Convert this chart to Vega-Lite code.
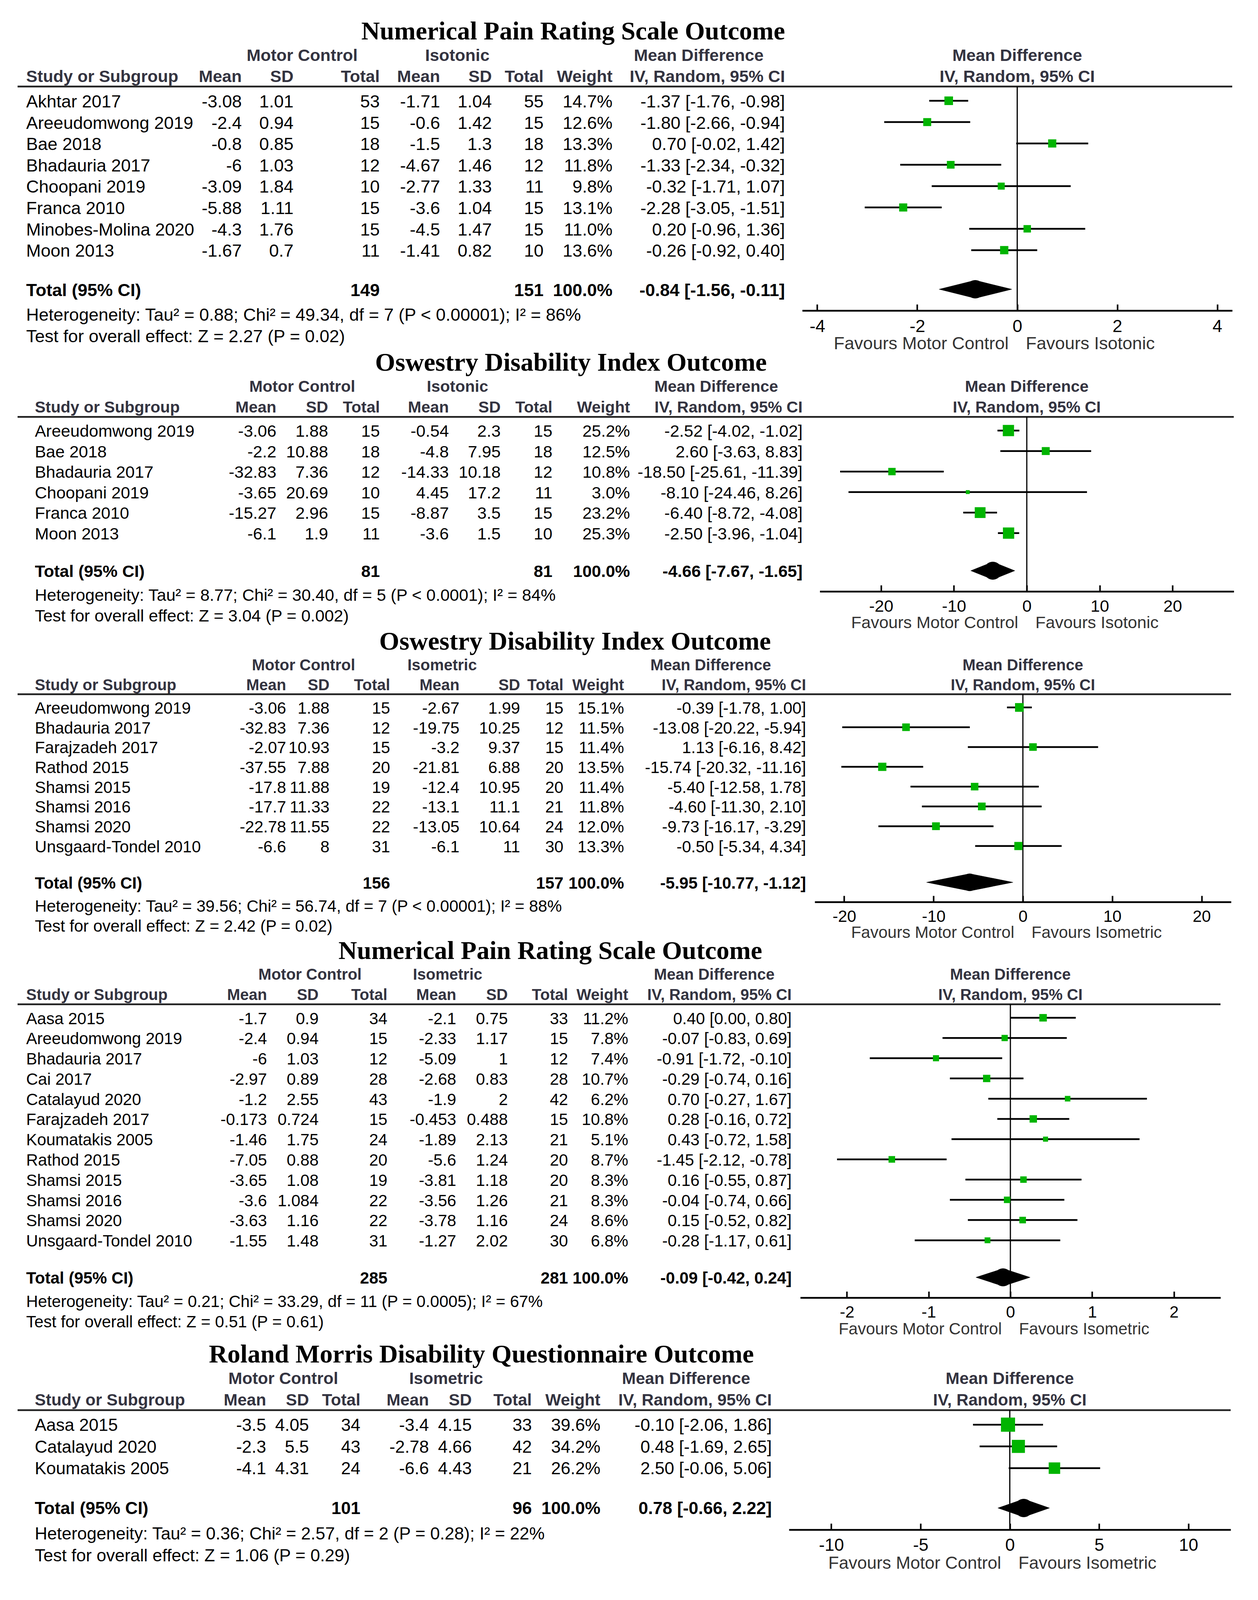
{
"$schema": "https://vega.github.io/schema/vega-lite/v6.json",
"background": "white",
"padding": {"left": 42, "top": 47, "right": 5, "bottom": 5},
"config": {"view": {"stroke": null}, "text": {"font": "Liberation Sans", "baseline": "middle", "color": "black", "dy": 3}},
"datasets": {
"hTopIso": [{"col": "gA", "label": "Motor Control"}, {"col": "gB", "label": "Isotonic"}, {"col": "gC", "label": "Mean Difference"}],
"hTopIsom": [{"col": "gA", "label": "Motor Control"}, {"col": "gB", "label": "Isometric"}, {"col": "gC", "label": "Mean Difference"}],
"hCols": [{"col": "m1", "label": "Mean"}, {"col": "s1", "label": "SD"}, {"col": "n1", "label": "Total"}, {"col": "m2", "label": "Mean"}, {"col": "s2", "label": "SD"}, {"col": "n2", "label": "Total"}, {"col": "w", "label": "Weight"}, {"col": "ci", "label": "IV, Random, 95% CI"}],
"p1": [
{"study": "Akhtar 2017", "kind": "study", "m1": -3.08, "s1": 1.01, "n1": 53, "m2": -1.71, "s2": 1.04, "n2": 55, "w": 0.147, "md": -1.37, "lo": -1.76, "hi": -0.98, "ci": "-1.37 [-1.76, -0.98]"},
{"study": "Areeudomwong 2019", "kind": "study", "m1": -2.4, "s1": 0.94, "n1": 15, "m2": -0.6, "s2": 1.42, "n2": 15, "w": 0.126, "md": -1.80, "lo": -2.66, "hi": -0.94, "ci": "-1.80 [-2.66, -0.94]"},
{"study": "Bae 2018", "kind": "study", "m1": -0.8, "s1": 0.85, "n1": 18, "m2": -1.5, "s2": 1.3, "n2": 18, "w": 0.133, "md": 0.70, "lo": -0.02, "hi": 1.42, "ci": "0.70 [-0.02, 1.42]"},
{"study": "Bhadauria 2017", "kind": "study", "m1": -6, "s1": 1.03, "n1": 12, "m2": -4.67, "s2": 1.46, "n2": 12, "w": 0.118, "md": -1.33, "lo": -2.34, "hi": -0.32, "ci": "-1.33 [-2.34, -0.32]"},
{"study": "Choopani 2019", "kind": "study", "m1": -3.09, "s1": 1.84, "n1": 10, "m2": -2.77, "s2": 1.33, "n2": 11, "w": 0.098, "md": -0.32, "lo": -1.71, "hi": 1.07, "ci": "-0.32 [-1.71, 1.07]"},
{"study": "Franca 2010", "kind": "study", "m1": -5.88, "s1": 1.11, "n1": 15, "m2": -3.6, "s2": 1.04, "n2": 15, "w": 0.131, "md": -2.28, "lo": -3.05, "hi": -1.51, "ci": "-2.28 [-3.05, -1.51]"},
{"study": "Minobes-Molina 2020", "kind": "study", "m1": -4.3, "s1": 1.76, "n1": 15, "m2": -4.5, "s2": 1.47, "n2": 15, "w": 0.110, "md": 0.20, "lo": -0.96, "hi": 1.36, "ci": "0.20 [-0.96, 1.36]"},
{"study": "Moon 2013", "kind": "study", "m1": -1.67, "s1": 0.7, "n1": 11, "m2": -1.41, "s2": 0.82, "n2": 10, "w": 0.136, "md": -0.26, "lo": -0.92, "hi": 0.40, "ci": "-0.26 [-0.92, 0.40]"},
{"study": "Total (95% CI)", "kind": "total", "n1": 149, "n2": 151, "w": 1, "md": -0.84, "lo": -1.56, "hi": -0.11, "ci": "-0.84 [-1.56, -0.11]", "het": "Heterogeneity: Tau² = 0.88; Chi² = 49.34, df = 7 (P < 0.00001); I² = 86%", "test": "Test for overall effect: Z = 2.27 (P = 0.02)"}
],
"p2": [
{"study": "Areeudomwong 2019", "kind": "study", "m1": -3.06, "s1": 1.88, "n1": 15, "m2": -0.54, "s2": 2.3, "n2": 15, "w": 0.252, "md": -2.52, "lo": -4.02, "hi": -1.02, "ci": "-2.52 [-4.02, -1.02]"},
{"study": "Bae 2018", "kind": "study", "m1": -2.2, "s1": 10.88, "n1": 18, "m2": -4.8, "s2": 7.95, "n2": 18, "w": 0.125, "md": 2.60, "lo": -3.63, "hi": 8.83, "ci": "2.60 [-3.63, 8.83]"},
{"study": "Bhadauria 2017", "kind": "study", "m1": -32.83, "s1": 7.36, "n1": 12, "m2": -14.33, "s2": 10.18, "n2": 12, "w": 0.108, "md": -18.50, "lo": -25.61, "hi": -11.39, "ci": "-18.50 [-25.61, -11.39]"},
{"study": "Choopani 2019", "kind": "study", "m1": -3.65, "s1": 20.69, "n1": 10, "m2": 4.45, "s2": 17.2, "n2": 11, "w": 0.030, "md": -8.10, "lo": -24.46, "hi": 8.26, "ci": "-8.10 [-24.46, 8.26]"},
{"study": "Franca 2010", "kind": "study", "m1": -15.27, "s1": 2.96, "n1": 15, "m2": -8.87, "s2": 3.5, "n2": 15, "w": 0.232, "md": -6.40, "lo": -8.72, "hi": -4.08, "ci": "-6.40 [-8.72, -4.08]"},
{"study": "Moon 2013", "kind": "study", "m1": -6.1, "s1": 1.9, "n1": 11, "m2": -3.6, "s2": 1.5, "n2": 10, "w": 0.253, "md": -2.50, "lo": -3.96, "hi": -1.04, "ci": "-2.50 [-3.96, -1.04]"},
{"study": "Total (95% CI)", "kind": "total", "n1": 81, "n2": 81, "w": 1, "md": -4.66, "lo": -7.67, "hi": -1.65, "ci": "-4.66 [-7.67, -1.65]", "het": "Heterogeneity: Tau² = 8.77; Chi² = 30.40, df = 5 (P < 0.0001); I² = 84%", "test": "Test for overall effect: Z = 3.04 (P = 0.002)"}
],
"p3": [
{"study": "Areeudomwong 2019", "kind": "study", "m1": -3.06, "s1": 1.88, "n1": 15, "m2": -2.67, "s2": 1.99, "n2": 15, "w": 0.151, "md": -0.39, "lo": -1.78, "hi": 1.00, "ci": "-0.39 [-1.78, 1.00]"},
{"study": "Bhadauria 2017", "kind": "study", "m1": -32.83, "s1": 7.36, "n1": 12, "m2": -19.75, "s2": 10.25, "n2": 12, "w": 0.115, "md": -13.08, "lo": -20.22, "hi": -5.94, "ci": "-13.08 [-20.22, -5.94]"},
{"study": "Farajzadeh 2017", "kind": "study", "m1": -2.07, "s1": 10.93, "n1": 15, "m2": -3.2, "s2": 9.37, "n2": 15, "w": 0.114, "md": 1.13, "lo": -6.16, "hi": 8.42, "ci": "1.13 [-6.16, 8.42]"},
{"study": "Rathod 2015", "kind": "study", "m1": -37.55, "s1": 7.88, "n1": 20, "m2": -21.81, "s2": 6.88, "n2": 20, "w": 0.135, "md": -15.74, "lo": -20.32, "hi": -11.16, "ci": "-15.74 [-20.32, -11.16]"},
{"study": "Shamsi 2015", "kind": "study", "m1": -17.8, "s1": 11.88, "n1": 19, "m2": -12.4, "s2": 10.95, "n2": 20, "w": 0.114, "md": -5.40, "lo": -12.58, "hi": 1.78, "ci": "-5.40 [-12.58, 1.78]"},
{"study": "Shamsi 2016", "kind": "study", "m1": -17.7, "s1": 11.33, "n1": 22, "m2": -13.1, "s2": 11.1, "n2": 21, "w": 0.118, "md": -4.60, "lo": -11.30, "hi": 2.10, "ci": "-4.60 [-11.30, 2.10]"},
{"study": "Shamsi 2020", "kind": "study", "m1": -22.78, "s1": 11.55, "n1": 22, "m2": -13.05, "s2": 10.64, "n2": 24, "w": 0.120, "md": -9.73, "lo": -16.17, "hi": -3.29, "ci": "-9.73 [-16.17, -3.29]"},
{"study": "Unsgaard-Tondel 2010", "kind": "study", "m1": -6.6, "s1": 8, "n1": 31, "m2": -6.1, "s2": 11, "n2": 30, "w": 0.133, "md": -0.50, "lo": -5.34, "hi": 4.34, "ci": "-0.50 [-5.34, 4.34]"},
{"study": "Total (95% CI)", "kind": "total", "n1": 156, "n2": 157, "w": 1, "md": -5.95, "lo": -10.77, "hi": -1.12, "ci": "-5.95 [-10.77, -1.12]", "het": "Heterogeneity: Tau² = 39.56; Chi² = 56.74, df = 7 (P < 0.00001); I² = 88%", "test": "Test for overall effect: Z = 2.42 (P = 0.02)"}
],
"p4": [
{"study": "Aasa 2015", "kind": "study", "m1": -1.7, "s1": 0.9, "n1": 34, "m2": -2.1, "s2": 0.75, "n2": 33, "w": 0.112, "md": 0.40, "lo": 0.00, "hi": 0.80, "ci": "0.40 [0.00, 0.80]"},
{"study": "Areeudomwong 2019", "kind": "study", "m1": -2.4, "s1": 0.94, "n1": 15, "m2": -2.33, "s2": 1.17, "n2": 15, "w": 0.078, "md": -0.07, "lo": -0.83, "hi": 0.69, "ci": "-0.07 [-0.83, 0.69]"},
{"study": "Bhadauria 2017", "kind": "study", "m1": -6, "s1": 1.03, "n1": 12, "m2": -5.09, "s2": 1, "n2": 12, "w": 0.074, "md": -0.91, "lo": -1.72, "hi": -0.10, "ci": "-0.91 [-1.72, -0.10]"},
{"study": "Cai 2017", "kind": "study", "m1": -2.97, "s1": 0.89, "n1": 28, "m2": -2.68, "s2": 0.83, "n2": 28, "w": 0.107, "md": -0.29, "lo": -0.74, "hi": 0.16, "ci": "-0.29 [-0.74, 0.16]"},
{"study": "Catalayud 2020", "kind": "study", "m1": -1.2, "s1": 2.55, "n1": 43, "m2": -1.9, "s2": 2, "n2": 42, "w": 0.062, "md": 0.70, "lo": -0.27, "hi": 1.67, "ci": "0.70 [-0.27, 1.67]"},
{"study": "Farajzadeh 2017", "kind": "study", "m1": -0.173, "s1": 0.724, "n1": 15, "m2": -0.453, "s2": 0.488, "n2": 15, "w": 0.108, "md": 0.28, "lo": -0.16, "hi": 0.72, "ci": "0.28 [-0.16, 0.72]"},
{"study": "Koumatakis 2005", "kind": "study", "m1": -1.46, "s1": 1.75, "n1": 24, "m2": -1.89, "s2": 2.13, "n2": 21, "w": 0.051, "md": 0.43, "lo": -0.72, "hi": 1.58, "ci": "0.43 [-0.72, 1.58]"},
{"study": "Rathod 2015", "kind": "study", "m1": -7.05, "s1": 0.88, "n1": 20, "m2": -5.6, "s2": 1.24, "n2": 20, "w": 0.087, "md": -1.45, "lo": -2.12, "hi": -0.78, "ci": "-1.45 [-2.12, -0.78]"},
{"study": "Shamsi 2015", "kind": "study", "m1": -3.65, "s1": 1.08, "n1": 19, "m2": -3.81, "s2": 1.18, "n2": 20, "w": 0.083, "md": 0.16, "lo": -0.55, "hi": 0.87, "ci": "0.16 [-0.55, 0.87]"},
{"study": "Shamsi 2016", "kind": "study", "m1": -3.6, "s1": 1.084, "n1": 22, "m2": -3.56, "s2": 1.26, "n2": 21, "w": 0.083, "md": -0.04, "lo": -0.74, "hi": 0.66, "ci": "-0.04 [-0.74, 0.66]"},
{"study": "Shamsi 2020", "kind": "study", "m1": -3.63, "s1": 1.16, "n1": 22, "m2": -3.78, "s2": 1.16, "n2": 24, "w": 0.086, "md": 0.15, "lo": -0.52, "hi": 0.82, "ci": "0.15 [-0.52, 0.82]"},
{"study": "Unsgaard-Tondel 2010", "kind": "study", "m1": -1.55, "s1": 1.48, "n1": 31, "m2": -1.27, "s2": 2.02, "n2": 30, "w": 0.068, "md": -0.28, "lo": -1.17, "hi": 0.61, "ci": "-0.28 [-1.17, 0.61]"},
{"study": "Total (95% CI)", "kind": "total", "n1": 285, "n2": 281, "w": 1, "md": -0.09, "lo": -0.42, "hi": 0.24, "ci": "-0.09 [-0.42, 0.24]", "het": "Heterogeneity: Tau² = 0.21; Chi² = 33.29, df = 11 (P = 0.0005); I² = 67%", "test": "Test for overall effect: Z = 0.51 (P = 0.61)"}
],
"p5": [
{"study": "Aasa 2015", "kind": "study", "m1": -3.5, "s1": 4.05, "n1": 34, "m2": -3.4, "s2": 4.15, "n2": 33, "w": 0.396, "md": -0.10, "lo": -2.06, "hi": 1.86, "ci": "-0.10 [-2.06, 1.86]"},
{"study": "Catalayud 2020", "kind": "study", "m1": -2.3, "s1": 5.5, "n1": 43, "m2": -2.78, "s2": 4.66, "n2": 42, "w": 0.342, "md": 0.48, "lo": -1.69, "hi": 2.65, "ci": "0.48 [-1.69, 2.65]"},
{"study": "Koumatakis 2005", "kind": "study", "m1": -4.1, "s1": 4.31, "n1": 24, "m2": -6.6, "s2": 4.43, "n2": 21, "w": 0.262, "md": 2.50, "lo": -0.06, "hi": 5.06, "ci": "2.50 [-0.06, 5.06]"},
{"study": "Total (95% CI)", "kind": "total", "n1": 101, "n2": 96, "w": 1, "md": 0.78, "lo": -0.66, "hi": 2.22, "ci": "0.78 [-0.66, 2.22]", "het": "Heterogeneity: Tau² = 0.36; Chi² = 2.57, df = 2 (P = 0.28); I² = 22%", "test": "Test for overall effect: Z = 1.06 (P = 0.29)"}
]
},
"spacing": -13,
"vconcat": [
{"hconcat": [
{"width": 2009, "height": 774, "data": {"name": "p1"},
"title": {"text": "Numerical Pain Rating Scale Outcome", "font": "Liberation Serif", "fontSize": 66, "fontWeight": "bold", "color": "black", "anchor": "middle", "frame": "group", "dx": 418, "offset": 7},
"layer": [
{"data": {"values": [{}]}, "mark": {"type": "rule", "strokeWidth": 4.5, "color": "#222222"}, "encoding": {"y": {"datum": "_L", "type": "nominal", "axis": null, "scale": {"type": "point", "padding": 0.5, "domain": ["H1","1","2","3","4","5","H2","7","8","_L","10","11","12","Akhtar 2017","14","15","16","17","18","Areeudomwong 2019","20","21","22","23","24","Bae 2018","26","27","28","29","30","Bhadauria 2017","32","33","34","35","36","Choopani 2019","38","39","40","41","42","Franca 2010","44","45","46","47","48","Minobes-Molina 2020","50","51","52","53","54","Moon 2013","56","57","58","59","60","61","62","63","64","65","Total (95% CI)","67","68","69","70","71","_A","Het","74","75","76","77","78","Test","80","Fav","82","83","84"]}}}},
{"transform": [{"filter": "datum.kind == 'study'"}], "mark": {"type": "text", "align": "left", "fontSize": 45}, "encoding": {"x": {"datum": "study", "type": "nominal", "axis": null, "scale": {"type": "point", "padding": 0, "domain": ["0","study","2","3","4","5","6","7","8","9","10","11","12","13","14","15","16","17","18","19","20","21","22","23","24","25","m1","27","28","29","30","31","s1","gA","34","35","36","37","38","39","40","41","n1","43","44","45","46","47","48","m2","50","gB","52","53","54","s2","56","57","58","59","60","n2","62","63","64","65","66","67","68","w","70","71","72","73","74","75","76","77","78","gC","80","81","82","83","84","85","86","87","88","ci","90","91"]}}, "y": {"field": "study", "type": "nominal", "axis": null}, "text": {"field": "study", "type": "nominal"}}},
{"transform": [{"filter": "datum.kind == 'study'"}, {"fold": ["m1","s1","n1","m2","s2","n2","ci"]}], "mark": {"type": "text", "align": "right", "fontSize": 45}, "encoding": {"x": {"field": "key", "type": "nominal", "axis": null}, "y": {"field": "study", "type": "nominal", "axis": null}, "text": {"field": "value", "type": "nominal"}}},
{"transform": [{"filter": "datum.kind == 'study'"}], "mark": {"type": "text", "align": "right", "fontSize": 45}, "encoding": {"x": {"datum": "w", "type": "nominal", "axis": null}, "y": {"field": "study", "type": "nominal", "axis": null}, "text": {"field": "w", "type": "quantitative", "format": ".1%"}}},
{"transform": [{"filter": "datum.kind == 'total'"}], "mark": {"type": "text", "align": "left", "fontSize": 45, "fontWeight": "bold"}, "encoding": {"x": {"datum": "study", "type": "nominal", "axis": null}, "y": {"field": "study", "type": "nominal", "axis": null}, "text": {"field": "study", "type": "nominal"}}},
{"transform": [{"filter": "datum.kind == 'total'"}, {"fold": ["n1","n2","ci"]}], "mark": {"type": "text", "align": "right", "fontSize": 45, "fontWeight": "bold"}, "encoding": {"x": {"field": "key", "type": "nominal", "axis": null}, "y": {"field": "study", "type": "nominal", "axis": null}, "text": {"field": "value", "type": "nominal"}}},
{"transform": [{"filter": "datum.kind == 'total'"}], "mark": {"type": "text", "align": "right", "fontSize": 45, "fontWeight": "bold"}, "encoding": {"x": {"datum": "w", "type": "nominal", "axis": null}, "y": {"field": "study", "type": "nominal", "axis": null}, "text": {"field": "w", "type": "quantitative", "format": ".1%"}}},
{"transform": [{"filter": "datum.kind == 'total'"}], "mark": {"type": "text", "align": "left", "fontSize": 45}, "encoding": {"x": {"datum": "study", "type": "nominal", "axis": null}, "y": {"datum": "Het", "type": "nominal", "axis": null}, "text": {"field": "het", "type": "nominal"}}},
{"transform": [{"filter": "datum.kind == 'total'"}], "mark": {"type": "text", "align": "left", "fontSize": 45}, "encoding": {"x": {"datum": "study", "type": "nominal", "axis": null}, "y": {"datum": "Test", "type": "nominal", "axis": null}, "text": {"field": "test", "type": "nominal"}}},
{"data": {"name": "hTopIso"}, "mark": {"type": "text", "align": "center", "fontSize": 43, "fontWeight": "bold", "color": "#333340"}, "encoding": {"x": {"field": "col", "type": "nominal", "axis": null}, "y": {"datum": "H1", "type": "nominal", "axis": null}, "text": {"field": "label", "type": "nominal"}}},
{"data": {"values": [{}]}, "mark": {"type": "text", "align": "left", "fontSize": 43, "fontWeight": "bold", "color": "#333340"}, "encoding": {"x": {"datum": "study", "type": "nominal", "axis": null}, "y": {"datum": "H2", "type": "nominal", "axis": null}, "text": {"value": "Study or Subgroup"}}},
{"data": {"name": "hCols"}, "mark": {"type": "text", "align": "right", "fontSize": 43, "fontWeight": "bold", "color": "#333340"}, "encoding": {"x": {"field": "col", "type": "nominal", "axis": null}, "y": {"datum": "H2", "type": "nominal", "axis": null}, "text": {"field": "label", "type": "nominal"}}}
]},
{"width": 1101, "height": 774, "data": {"name": "p1"},
"resolve": {"scale": {"size": "independent"}, "axis": {"x": "independent"}},
"layer": [
{"data": {"values": [{}]}, "mark": {"type": "rule", "strokeWidth": 4.5, "color": "#222222"}, "encoding": {"y": {"datum": "_L", "type": "nominal", "axis": null, "scale": {"type": "point", "padding": 0.5, "domain": ["H1","1","2","3","4","5","H2","7","8","_L","10","11","12","Akhtar 2017","14","15","16","17","18","Areeudomwong 2019","20","21","22","23","24","Bae 2018","26","27","28","29","30","Bhadauria 2017","32","33","34","35","36","Choopani 2019","38","39","40","41","42","Franca 2010","44","45","46","47","48","Minobes-Molina 2020","50","51","52","53","54","Moon 2013","56","57","58","59","60","61","62","63","64","65","Total (95% CI)","67","68","69","70","71","_A","Het","74","75","76","77","78","Test","80","Fav","82","83","84"]}}}},
{"data": {"values": [{}]}, "mark": {"type": "rule", "strokeWidth": 3, "color": "black"}, "encoding": {"x": {"datum": 0, "type": "quantitative", "scale": {"domain": [-4.3, 4.3], "nice": false, "zero": false}, "axis": {"values": [-4, -2, 0, 2, 4], "title": null, "grid": false, "domainColor": "black", "domainWidth": 4.5, "ticks": true, "tickSize": 0, "labelFont": "Liberation Sans", "labelFontSize": 45, "labelColor": "black", "labelPadding": 40, "labelBaseline": "middle", "labelFlush": false, "labelOverlap": false, "offset": -114, "labelExpr": "replace(datum.label, '\u2212', '-')"}}, "y": {"datum": "_L", "type": "nominal", "axis": null}, "y2": {"datum": "_A"}}},
{"transform": [{"filter": "datum.kind == 'study'"}], "mark": {"type": "rule", "strokeWidth": 4.5, "color": "black"}, "encoding": {"x": {"field": "lo", "type": "quantitative", "axis": null}, "x2": {"field": "hi"}, "y": {"field": "study", "type": "nominal", "axis": null}}},
{"transform": [{"filter": "datum.kind == 'study'"}], "mark": {"type": "point", "shape": "square", "filled": true, "opacity": 1, "color": "#00b400"}, "encoding": {"x": {"field": "md", "type": "quantitative", "axis": null}, "y": {"field": "study", "type": "nominal", "axis": null}, "size": {"field": "w", "type": "quantitative", "scale": {"domain": [0, 1], "range": [0, 3300]}, "legend": null}}},
{"transform": [{"filter": "datum.kind == 'total'"}, {"fold": ["lo","md","hi"], "as": ["pt","val"]}], "mark": {"type": "trail", "color": "black"}, "encoding": {"x": {"field": "val", "type": "quantitative", "axis": null}, "y": {"field": "study", "type": "nominal", "axis": null}, "order": {"field": "val", "type": "quantitative"}, "size": {"field": "pt", "type": "nominal", "scale": {"type": "ordinal", "domain": ["lo","md","hi"], "range": [0, 47, 0]}, "legend": null}}},
{"data": {"values": [{}]}, "mark": {"type": "text", "align": "center", "fontSize": 43, "fontWeight": "bold", "color": "#333340"}, "encoding": {"x": {"datum": 0, "type": "quantitative", "axis": {"orient": "top", "values": [-4, -2, 0, 2, 4], "title": null, "grid": false, "domain": false, "labels": false, "ticks": true, "tickSize": 16, "tickWidth": 4, "tickColor": "black", "offset": -660}}, "y": {"datum": "H1", "type": "nominal", "axis": null}, "text": {"value": "Mean Difference"}}},
{"data": {"values": [{}]}, "mark": {"type": "text", "align": "center", "fontSize": 43, "fontWeight": "bold", "color": "#333340"}, "encoding": {"x": {"datum": 0, "type": "quantitative", "axis": null}, "y": {"datum": "H2", "type": "nominal", "axis": null}, "text": {"value": "IV, Random, 95% CI"}}},
{"data": {"values": [{}]}, "mark": {"type": "text", "align": "right", "dx": -22, "fontSize": 45, "color": "#333333"}, "encoding": {"x": {"datum": 0, "type": "quantitative", "axis": null}, "y": {"datum": "Fav", "type": "nominal", "axis": null}, "text": {"value": "Favours Motor Control"}}},
{"data": {"values": [{}]}, "mark": {"type": "text", "align": "left", "dx": 22, "fontSize": 45, "color": "#333333"}, "encoding": {"x": {"datum": 0, "type": "quantitative", "axis": null}, "y": {"datum": "Fav", "type": "nominal", "axis": null}, "text": {"value": "Favours Isotonic"}}}
]}
], "spacing": 0, "bounds": "flush"},

{"hconcat": [
{"width": 2054, "height": 639, "data": {"name": "p2"},
"title": {"text": "Oswestry Disability Index Outcome", "font": "Liberation Serif", "fontSize": 66, "fontWeight": "bold", "color": "black", "anchor": "middle", "frame": "group", "dx": 390, "offset": 7},
"layer": [
{"data": {"values": [{}]}, "mark": {"type": "rule", "strokeWidth": 4.5, "color": "#222222"}, "encoding": {"y": {"datum": "_L", "type": "nominal", "axis": null, "scale": {"type": "point", "padding": 0.5, "domain": ["H1","1","2","3","4","5","H2","7","8","_L","10","11","12","Areeudomwong 2019","14","15","16","17","18","Bae 2018","20","21","22","23","24","Bhadauria 2017","26","27","28","29","30","Choopani 2019","32","33","34","35","36","Franca 2010","38","39","40","41","42","Moon 2013","44","45","46","47","48","49","50","51","52","53","Total (95% CI)","55","56","57","58","59","_A","Het","62","63","64","65","66","Test","68","Fav","70","71","72"]}}}},
{"transform": [{"filter": "datum.kind == 'study'"}], "mark": {"type": "text", "align": "left", "fontSize": 43}, "encoding": {"x": {"datum": "study", "type": "nominal", "axis": null, "scale": {"type": "point", "padding": 0, "domain": ["0","1","study","3","4","5","6","7","8","9","10","11","12","13","14","15","16","17","18","19","20","21","22","23","24","25","26","27","28","29","m1","31","32","gA","34","35","s1","37","38","39","40","41","n1","43","44","45","46","47","48","49","m2","gB","52","53","54","55","s2","57","58","59","60","61","n2","63","64","65","66","67","68","69","70","w","72","73","74","75","76","77","78","79","80","gC","82","83","84","85","86","87","88","89","90","ci","92","93"]}}, "y": {"field": "study", "type": "nominal", "axis": null}, "text": {"field": "study", "type": "nominal"}}},
{"transform": [{"filter": "datum.kind == 'study'"}, {"fold": ["m1","s1","n1","m2","s2","n2","ci"]}], "mark": {"type": "text", "align": "right", "fontSize": 43}, "encoding": {"x": {"field": "key", "type": "nominal", "axis": null}, "y": {"field": "study", "type": "nominal", "axis": null}, "text": {"field": "value", "type": "nominal"}}},
{"transform": [{"filter": "datum.kind == 'study'"}], "mark": {"type": "text", "align": "right", "fontSize": 43}, "encoding": {"x": {"datum": "w", "type": "nominal", "axis": null}, "y": {"field": "study", "type": "nominal", "axis": null}, "text": {"field": "w", "type": "quantitative", "format": ".1%"}}},
{"transform": [{"filter": "datum.kind == 'total'"}], "mark": {"type": "text", "align": "left", "fontSize": 43, "fontWeight": "bold"}, "encoding": {"x": {"datum": "study", "type": "nominal", "axis": null}, "y": {"field": "study", "type": "nominal", "axis": null}, "text": {"field": "study", "type": "nominal"}}},
{"transform": [{"filter": "datum.kind == 'total'"}, {"fold": ["n1","n2","ci"]}], "mark": {"type": "text", "align": "right", "fontSize": 43, "fontWeight": "bold"}, "encoding": {"x": {"field": "key", "type": "nominal", "axis": null}, "y": {"field": "study", "type": "nominal", "axis": null}, "text": {"field": "value", "type": "nominal"}}},
{"transform": [{"filter": "datum.kind == 'total'"}], "mark": {"type": "text", "align": "right", "fontSize": 43, "fontWeight": "bold"}, "encoding": {"x": {"datum": "w", "type": "nominal", "axis": null}, "y": {"field": "study", "type": "nominal", "axis": null}, "text": {"field": "w", "type": "quantitative", "format": ".1%"}}},
{"transform": [{"filter": "datum.kind == 'total'"}], "mark": {"type": "text", "align": "left", "fontSize": 43}, "encoding": {"x": {"datum": "study", "type": "nominal", "axis": null}, "y": {"datum": "Het", "type": "nominal", "axis": null}, "text": {"field": "het", "type": "nominal"}}},
{"transform": [{"filter": "datum.kind == 'total'"}], "mark": {"type": "text", "align": "left", "fontSize": 43}, "encoding": {"x": {"datum": "study", "type": "nominal", "axis": null}, "y": {"datum": "Test", "type": "nominal", "axis": null}, "text": {"field": "test", "type": "nominal"}}},
{"data": {"name": "hTopIso"}, "mark": {"type": "text", "align": "center", "fontSize": 41, "fontWeight": "bold", "color": "#333340"}, "encoding": {"x": {"field": "col", "type": "nominal", "axis": null}, "y": {"datum": "H1", "type": "nominal", "axis": null}, "text": {"field": "label", "type": "nominal"}}},
{"data": {"values": [{}]}, "mark": {"type": "text", "align": "left", "fontSize": 41, "fontWeight": "bold", "color": "#333340"}, "encoding": {"x": {"datum": "study", "type": "nominal", "axis": null}, "y": {"datum": "H2", "type": "nominal", "axis": null}, "text": {"value": "Study or Subgroup"}}},
{"data": {"name": "hCols"}, "mark": {"type": "text", "align": "right", "fontSize": 41, "fontWeight": "bold", "color": "#333340"}, "encoding": {"x": {"field": "col", "type": "nominal", "axis": null}, "y": {"datum": "H2", "type": "nominal", "axis": null}, "text": {"field": "label", "type": "nominal"}}}
]},
{"width": 1060, "height": 639, "data": {"name": "p2"},
"resolve": {"scale": {"size": "independent"}, "axis": {"x": "independent"}},
"layer": [
{"data": {"values": [{}]}, "mark": {"type": "rule", "strokeWidth": 4.5, "color": "#222222"}, "encoding": {"y": {"datum": "_L", "type": "nominal", "axis": null, "scale": {"type": "point", "padding": 0.5, "domain": ["H1","1","2","3","4","5","H2","7","8","_L","10","11","12","Areeudomwong 2019","14","15","16","17","18","Bae 2018","20","21","22","23","24","Bhadauria 2017","26","27","28","29","30","Choopani 2019","32","33","34","35","36","Franca 2010","38","39","40","41","42","Moon 2013","44","45","46","47","48","49","50","51","52","53","Total (95% CI)","55","56","57","58","59","_A","Het","62","63","64","65","66","Test","68","Fav","70","71","72"]}}}},
{"data": {"values": [{}]}, "mark": {"type": "rule", "strokeWidth": 3, "color": "black"}, "encoding": {"x": {"datum": 0, "type": "quantitative", "scale": {"domain": [-28.4, 28.4], "nice": false, "zero": false}, "axis": {"values": [-20, -10, 0, 10, 20], "title": null, "grid": false, "domainColor": "black", "domainWidth": 4.5, "ticks": true, "tickSize": 0, "labelFont": "Liberation Sans", "labelFontSize": 43, "labelColor": "black", "labelPadding": 38, "labelBaseline": "middle", "labelFlush": false, "labelOverlap": false, "offset": -109, "labelExpr": "replace(datum.label, '\u2212', '-')"}}, "y": {"datum": "_L", "type": "nominal", "axis": null}, "y2": {"datum": "_A"}}},
{"transform": [{"filter": "datum.kind == 'study'"}], "mark": {"type": "rule", "strokeWidth": 4.5, "color": "black"}, "encoding": {"x": {"field": "lo", "type": "quantitative", "axis": null}, "x2": {"field": "hi"}, "y": {"field": "study", "type": "nominal", "axis": null}}},
{"transform": [{"filter": "datum.kind == 'study'"}], "mark": {"type": "point", "shape": "square", "filled": true, "opacity": 1, "color": "#00b400"}, "encoding": {"x": {"field": "md", "type": "quantitative", "axis": null}, "y": {"field": "study", "type": "nominal", "axis": null}, "size": {"field": "w", "type": "quantitative", "scale": {"domain": [0, 1], "range": [0, 3300]}, "legend": null}}},
{"transform": [{"filter": "datum.kind == 'total'"}, {"fold": ["lo","md","hi"], "as": ["pt","val"]}], "mark": {"type": "trail", "color": "black"}, "encoding": {"x": {"field": "val", "type": "quantitative", "axis": null}, "y": {"field": "study", "type": "nominal", "axis": null}, "order": {"field": "val", "type": "quantitative"}, "size": {"field": "pt", "type": "nominal", "scale": {"type": "ordinal", "domain": ["lo","md","hi"], "range": [0, 46, 0]}, "legend": null}}},
{"data": {"values": [{}]}, "mark": {"type": "text", "align": "center", "fontSize": 41, "fontWeight": "bold", "color": "#333340"}, "encoding": {"x": {"datum": 0, "type": "quantitative", "axis": {"orient": "top", "values": [-20, -10, 0, 10, 20], "title": null, "grid": false, "domain": false, "labels": false, "ticks": true, "tickSize": 16, "tickWidth": 4, "tickColor": "black", "offset": -530}}, "y": {"datum": "H1", "type": "nominal", "axis": null}, "text": {"value": "Mean Difference"}}},
{"data": {"values": [{}]}, "mark": {"type": "text", "align": "center", "fontSize": 41, "fontWeight": "bold", "color": "#333340"}, "encoding": {"x": {"datum": 0, "type": "quantitative", "axis": null}, "y": {"datum": "H2", "type": "nominal", "axis": null}, "text": {"value": "IV, Random, 95% CI"}}},
{"data": {"values": [{}]}, "mark": {"type": "text", "align": "right", "dx": -22, "fontSize": 43, "color": "#333333"}, "encoding": {"x": {"datum": 0, "type": "quantitative", "axis": null}, "y": {"datum": "Fav", "type": "nominal", "axis": null}, "text": {"value": "Favours Motor Control"}}},
{"data": {"values": [{}]}, "mark": {"type": "text", "align": "left", "dx": 22, "fontSize": 43, "color": "#333333"}, "encoding": {"x": {"datum": 0, "type": "quantitative", "axis": null}, "y": {"datum": "Fav", "type": "nominal", "axis": null}, "text": {"value": "Favours Isotonic"}}}
]}
], "spacing": 0, "bounds": "flush"},

{"hconcat": [
{"width": 2041, "height": 718, "data": {"name": "p3"},
"title": {"text": "Oswestry Disability Index Outcome", "font": "Liberation Serif", "fontSize": 66, "fontWeight": "bold", "color": "black", "anchor": "middle", "frame": "group", "dx": 407, "offset": 7},
"layer": [
{"data": {"values": [{}]}, "mark": {"type": "rule", "strokeWidth": 4.5, "color": "#222222"}, "encoding": {"y": {"datum": "_L", "type": "nominal", "axis": null, "scale": {"type": "point", "padding": 0.5, "domain": ["H1","1","2","3","4","5","H2","7","8","_L","10","11","12","Areeudomwong 2019","14","15","16","17","18","Bhadauria 2017","20","21","22","23","24","Farajzadeh 2017","26","27","28","29","30","Rathod 2015","32","33","34","35","36","Shamsi 2015","38","39","40","41","42","Shamsi 2016","44","45","46","47","48","Shamsi 2020","50","51","52","53","54","Unsgaard-Tondel 2010","56","57","58","59","60","61","62","63","64","65","Total (95% CI)","67","68","69","70","71","_A","Het","74","75","76","77","78","Test","80","Fav","82","83","84"]}}}},
{"transform": [{"filter": "datum.kind == 'study'"}], "mark": {"type": "text", "align": "left", "fontSize": 42}, "encoding": {"x": {"datum": "study", "type": "nominal", "axis": null, "scale": {"type": "point", "padding": 0, "domain": ["0","1","study","3","4","5","6","7","8","9","10","11","12","13","14","15","16","17","18","19","20","21","22","23","24","25","26","27","28","29","30","m1","32","gA","34","35","s1","37","38","39","40","41","42","n1","44","45","46","47","48","gB","50","m2","52","53","54","55","56","57","s2","59","60","61","62","n2","64","65","66","67","68","69","w","71","72","73","74","75","76","77","78","79","gC","81","82","83","84","85","86","87","88","89","90","ci","92"]}}, "y": {"field": "study", "type": "nominal", "axis": null}, "text": {"field": "study", "type": "nominal"}}},
{"transform": [{"filter": "datum.kind == 'study'"}, {"fold": ["m1","s1","n1","m2","s2","n2","ci"]}], "mark": {"type": "text", "align": "right", "fontSize": 42}, "encoding": {"x": {"field": "key", "type": "nominal", "axis": null}, "y": {"field": "study", "type": "nominal", "axis": null}, "text": {"field": "value", "type": "nominal"}}},
{"transform": [{"filter": "datum.kind == 'study'"}], "mark": {"type": "text", "align": "right", "fontSize": 42}, "encoding": {"x": {"datum": "w", "type": "nominal", "axis": null}, "y": {"field": "study", "type": "nominal", "axis": null}, "text": {"field": "w", "type": "quantitative", "format": ".1%"}}},
{"transform": [{"filter": "datum.kind == 'total'"}], "mark": {"type": "text", "align": "left", "fontSize": 42, "fontWeight": "bold"}, "encoding": {"x": {"datum": "study", "type": "nominal", "axis": null}, "y": {"field": "study", "type": "nominal", "axis": null}, "text": {"field": "study", "type": "nominal"}}},
{"transform": [{"filter": "datum.kind == 'total'"}, {"fold": ["n1","n2","ci"]}], "mark": {"type": "text", "align": "right", "fontSize": 42, "fontWeight": "bold"}, "encoding": {"x": {"field": "key", "type": "nominal", "axis": null}, "y": {"field": "study", "type": "nominal", "axis": null}, "text": {"field": "value", "type": "nominal"}}},
{"transform": [{"filter": "datum.kind == 'total'"}], "mark": {"type": "text", "align": "right", "fontSize": 42, "fontWeight": "bold"}, "encoding": {"x": {"datum": "w", "type": "nominal", "axis": null}, "y": {"field": "study", "type": "nominal", "axis": null}, "text": {"field": "w", "type": "quantitative", "format": ".1%"}}},
{"transform": [{"filter": "datum.kind == 'total'"}], "mark": {"type": "text", "align": "left", "fontSize": 42}, "encoding": {"x": {"datum": "study", "type": "nominal", "axis": null}, "y": {"datum": "Het", "type": "nominal", "axis": null}, "text": {"field": "het", "type": "nominal"}}},
{"transform": [{"filter": "datum.kind == 'total'"}], "mark": {"type": "text", "align": "left", "fontSize": 42}, "encoding": {"x": {"datum": "study", "type": "nominal", "axis": null}, "y": {"datum": "Test", "type": "nominal", "axis": null}, "text": {"field": "test", "type": "nominal"}}},
{"data": {"name": "hTopIsom"}, "mark": {"type": "text", "align": "center", "fontSize": 40, "fontWeight": "bold", "color": "#333340"}, "encoding": {"x": {"field": "col", "type": "nominal", "axis": null}, "y": {"datum": "H1", "type": "nominal", "axis": null}, "text": {"field": "label", "type": "nominal"}}},
{"data": {"values": [{}]}, "mark": {"type": "text", "align": "left", "fontSize": 40, "fontWeight": "bold", "color": "#333340"}, "encoding": {"x": {"datum": "study", "type": "nominal", "axis": null}, "y": {"datum": "H2", "type": "nominal", "axis": null}, "text": {"value": "Study or Subgroup"}}},
{"data": {"name": "hCols"}, "mark": {"type": "text", "align": "right", "fontSize": 40, "fontWeight": "bold", "color": "#333340"}, "encoding": {"x": {"field": "col", "type": "nominal", "axis": null}, "y": {"datum": "H2", "type": "nominal", "axis": null}, "text": {"field": "label", "type": "nominal"}}}
]},
{"width": 1066, "height": 718, "data": {"name": "p3"},
"resolve": {"scale": {"size": "independent"}, "axis": {"x": "independent"}},
"layer": [
{"data": {"values": [{}]}, "mark": {"type": "rule", "strokeWidth": 4.5, "color": "#222222"}, "encoding": {"y": {"datum": "_L", "type": "nominal", "axis": null, "scale": {"type": "point", "padding": 0.5, "domain": ["H1","1","2","3","4","5","H2","7","8","_L","10","11","12","Areeudomwong 2019","14","15","16","17","18","Bhadauria 2017","20","21","22","23","24","Farajzadeh 2017","26","27","28","29","30","Rathod 2015","32","33","34","35","36","Shamsi 2015","38","39","40","41","42","Shamsi 2016","44","45","46","47","48","Shamsi 2020","50","51","52","53","54","Unsgaard-Tondel 2010","56","57","58","59","60","61","62","63","64","65","Total (95% CI)","67","68","69","70","71","_A","Het","74","75","76","77","78","Test","80","Fav","82","83","84"]}}}},
{"data": {"values": [{}]}, "mark": {"type": "rule", "strokeWidth": 3, "color": "black"}, "encoding": {"x": {"datum": 0, "type": "quantitative", "scale": {"domain": [-23.3, 23.3], "nice": false, "zero": false}, "axis": {"values": [-20, -10, 0, 10, 20], "title": null, "grid": false, "domainColor": "black", "domainWidth": 4.5, "ticks": true, "tickSize": 0, "labelFont": "Liberation Sans", "labelFontSize": 42, "labelColor": "black", "labelPadding": 37, "labelBaseline": "middle", "labelFlush": false, "labelOverlap": false, "offset": -106, "labelExpr": "replace(datum.label, '\u2212', '-')"}}, "y": {"datum": "_L", "type": "nominal", "axis": null}, "y2": {"datum": "_A"}}},
{"transform": [{"filter": "datum.kind == 'study'"}], "mark": {"type": "rule", "strokeWidth": 4.5, "color": "black"}, "encoding": {"x": {"field": "lo", "type": "quantitative", "axis": null}, "x2": {"field": "hi"}, "y": {"field": "study", "type": "nominal", "axis": null}}},
{"transform": [{"filter": "datum.kind == 'study'"}], "mark": {"type": "point", "shape": "square", "filled": true, "opacity": 1, "color": "#00b400"}, "encoding": {"x": {"field": "md", "type": "quantitative", "axis": null}, "y": {"field": "study", "type": "nominal", "axis": null}, "size": {"field": "w", "type": "quantitative", "scale": {"domain": [0, 1], "range": [0, 3300]}, "legend": null}}},
{"transform": [{"filter": "datum.kind == 'total'"}, {"fold": ["lo","md","hi"], "as": ["pt","val"]}], "mark": {"type": "trail", "color": "black"}, "encoding": {"x": {"field": "val", "type": "quantitative", "axis": null}, "y": {"field": "study", "type": "nominal", "axis": null}, "order": {"field": "val", "type": "quantitative"}, "size": {"field": "pt", "type": "nominal", "scale": {"type": "ordinal", "domain": ["lo","md","hi"], "range": [0, 45, 0]}, "legend": null}}},
{"data": {"values": [{}]}, "mark": {"type": "text", "align": "center", "fontSize": 40, "fontWeight": "bold", "color": "#333340"}, "encoding": {"x": {"datum": 0, "type": "quantitative", "axis": {"orient": "top", "values": [-20, -10, 0, 10, 20], "title": null, "grid": false, "domain": false, "labels": false, "ticks": true, "tickSize": 16, "tickWidth": 4, "tickColor": "black", "offset": -612}}, "y": {"datum": "H1", "type": "nominal", "axis": null}, "text": {"value": "Mean Difference"}}},
{"data": {"values": [{}]}, "mark": {"type": "text", "align": "center", "fontSize": 40, "fontWeight": "bold", "color": "#333340"}, "encoding": {"x": {"datum": 0, "type": "quantitative", "axis": null}, "y": {"datum": "H2", "type": "nominal", "axis": null}, "text": {"value": "IV, Random, 95% CI"}}},
{"data": {"values": [{}]}, "mark": {"type": "text", "align": "right", "dx": -22, "fontSize": 42, "color": "#333333"}, "encoding": {"x": {"datum": 0, "type": "quantitative", "axis": null}, "y": {"datum": "Fav", "type": "nominal", "axis": null}, "text": {"value": "Favours Motor Control"}}},
{"data": {"values": [{}]}, "mark": {"type": "text", "align": "left", "dx": 22, "fontSize": 42, "color": "#333333"}, "encoding": {"x": {"datum": 0, "type": "quantitative", "axis": null}, "y": {"datum": "Fav", "type": "nominal", "axis": null}, "text": {"value": "Favours Isometric"}}}
]}
], "spacing": 0, "bounds": "flush"},

{"hconcat": [
{"width": 2004, "height": 958, "data": {"name": "p4"},
"title": {"text": "Numerical Pain Rating Scale Outcome", "font": "Liberation Serif", "fontSize": 66, "fontWeight": "bold", "color": "black", "anchor": "middle", "frame": "group", "dx": 362, "offset": 7},
"layer": [
{"data": {"values": [{}]}, "mark": {"type": "rule", "strokeWidth": 4.5, "color": "#222222"}, "encoding": {"y": {"datum": "_L", "type": "nominal", "axis": null, "scale": {"type": "point", "padding": 0.5, "domain": ["H1","1","2","3","4","5","H2","7","8","_L","10","11","12","Aasa 2015","14","15","16","17","18","Areeudomwong 2019","20","21","22","23","24","Bhadauria 2017","26","27","28","29","30","Cai 2017","32","33","34","35","36","Catalayud 2020","38","39","40","41","42","Farajzadeh 2017","44","45","46","47","48","Koumatakis 2005","50","51","52","53","54","Rathod 2015","56","57","58","59","60","Shamsi 2015","62","63","64","65","66","Shamsi 2016","68","69","70","71","72","Shamsi 2020","74","75","76","77","78","Unsgaard-Tondel 2010","80","81","82","83","84","85","86","87","88","89","Total (95% CI)","91","92","93","94","95","_A","Het","98","99","100","101","102","Test","104","Fav","106","107","108","109","110"]}}}},
{"transform": [{"filter": "datum.kind == 'study'"}], "mark": {"type": "text", "align": "left", "fontSize": 42}, "encoding": {"x": {"datum": "study", "type": "nominal", "axis": null, "scale": {"type": "point", "padding": 0, "domain": ["0","study","2","3","4","5","6","7","8","9","10","11","12","13","14","15","16","17","18","19","20","21","22","23","24","25","26","27","28","m1","30","31","32","33","gA","s1","36","37","38","39","40","41","42","n1","44","45","46","47","48","49","gB","m2","52","53","54","55","56","s2","58","59","60","61","62","63","n2","65","66","67","68","69","70","w","72","73","74","75","76","77","78","79","80","gC","82","83","84","85","86","87","88","89","ci","91"]}}, "y": {"field": "study", "type": "nominal", "axis": null}, "text": {"field": "study", "type": "nominal"}}},
{"transform": [{"filter": "datum.kind == 'study'"}, {"fold": ["m1","s1","n1","m2","s2","n2","ci"]}], "mark": {"type": "text", "align": "right", "fontSize": 42}, "encoding": {"x": {"field": "key", "type": "nominal", "axis": null}, "y": {"field": "study", "type": "nominal", "axis": null}, "text": {"field": "value", "type": "nominal"}}},
{"transform": [{"filter": "datum.kind == 'study'"}], "mark": {"type": "text", "align": "right", "fontSize": 42}, "encoding": {"x": {"datum": "w", "type": "nominal", "axis": null}, "y": {"field": "study", "type": "nominal", "axis": null}, "text": {"field": "w", "type": "quantitative", "format": ".1%"}}},
{"transform": [{"filter": "datum.kind == 'total'"}], "mark": {"type": "text", "align": "left", "fontSize": 42, "fontWeight": "bold"}, "encoding": {"x": {"datum": "study", "type": "nominal", "axis": null}, "y": {"field": "study", "type": "nominal", "axis": null}, "text": {"field": "study", "type": "nominal"}}},
{"transform": [{"filter": "datum.kind == 'total'"}, {"fold": ["n1","n2","ci"]}], "mark": {"type": "text", "align": "right", "fontSize": 42, "fontWeight": "bold"}, "encoding": {"x": {"field": "key", "type": "nominal", "axis": null}, "y": {"field": "study", "type": "nominal", "axis": null}, "text": {"field": "value", "type": "nominal"}}},
{"transform": [{"filter": "datum.kind == 'total'"}], "mark": {"type": "text", "align": "right", "fontSize": 42, "fontWeight": "bold"}, "encoding": {"x": {"datum": "w", "type": "nominal", "axis": null}, "y": {"field": "study", "type": "nominal", "axis": null}, "text": {"field": "w", "type": "quantitative", "format": ".1%"}}},
{"transform": [{"filter": "datum.kind == 'total'"}], "mark": {"type": "text", "align": "left", "fontSize": 42}, "encoding": {"x": {"datum": "study", "type": "nominal", "axis": null}, "y": {"datum": "Het", "type": "nominal", "axis": null}, "text": {"field": "het", "type": "nominal"}}},
{"transform": [{"filter": "datum.kind == 'total'"}], "mark": {"type": "text", "align": "left", "fontSize": 42}, "encoding": {"x": {"datum": "study", "type": "nominal", "axis": null}, "y": {"datum": "Test", "type": "nominal", "axis": null}, "text": {"field": "test", "type": "nominal"}}},
{"data": {"name": "hTopIsom"}, "mark": {"type": "text", "align": "center", "fontSize": 40, "fontWeight": "bold", "color": "#333340"}, "encoding": {"x": {"field": "col", "type": "nominal", "axis": null}, "y": {"datum": "H1", "type": "nominal", "axis": null}, "text": {"field": "label", "type": "nominal"}}},
{"data": {"values": [{}]}, "mark": {"type": "text", "align": "left", "fontSize": 40, "fontWeight": "bold", "color": "#333340"}, "encoding": {"x": {"datum": "study", "type": "nominal", "axis": null}, "y": {"datum": "H2", "type": "nominal", "axis": null}, "text": {"value": "Study or Subgroup"}}},
{"data": {"name": "hCols"}, "mark": {"type": "text", "align": "right", "fontSize": 40, "fontWeight": "bold", "color": "#333340"}, "encoding": {"x": {"field": "col", "type": "nominal", "axis": null}, "y": {"datum": "H2", "type": "nominal", "axis": null}, "text": {"field": "label", "type": "nominal"}}}
]},
{"width": 1076, "height": 958, "data": {"name": "p4"},
"resolve": {"scale": {"size": "independent"}, "axis": {"x": "independent"}},
"layer": [
{"data": {"values": [{}]}, "mark": {"type": "rule", "strokeWidth": 4.5, "color": "#222222"}, "encoding": {"y": {"datum": "_L", "type": "nominal", "axis": null, "scale": {"type": "point", "padding": 0.5, "domain": ["H1","1","2","3","4","5","H2","7","8","_L","10","11","12","Aasa 2015","14","15","16","17","18","Areeudomwong 2019","20","21","22","23","24","Bhadauria 2017","26","27","28","29","30","Cai 2017","32","33","34","35","36","Catalayud 2020","38","39","40","41","42","Farajzadeh 2017","44","45","46","47","48","Koumatakis 2005","50","51","52","53","54","Rathod 2015","56","57","58","59","60","Shamsi 2015","62","63","64","65","66","Shamsi 2016","68","69","70","71","72","Shamsi 2020","74","75","76","77","78","Unsgaard-Tondel 2010","80","81","82","83","84","85","86","87","88","89","Total (95% CI)","91","92","93","94","95","_A","Het","98","99","100","101","102","Test","104","Fav","106","107","108","109","110"]}}}},
{"data": {"values": [{}]}, "mark": {"type": "rule", "strokeWidth": 3, "color": "black"}, "encoding": {"x": {"datum": 0, "type": "quantitative", "scale": {"domain": [-2.57, 2.57], "nice": false, "zero": false}, "axis": {"values": [-2, -1, 0, 1, 2], "title": null, "grid": false, "domainColor": "black", "domainWidth": 4.5, "ticks": true, "tickSize": 0, "labelFont": "Liberation Sans", "labelFontSize": 42, "labelColor": "black", "labelPadding": 37, "labelBaseline": "middle", "labelFlush": false, "labelOverlap": false, "offset": -125, "labelExpr": "replace(datum.label, '\u2212', '-')"}}, "y": {"datum": "_L", "type": "nominal", "axis": null}, "y2": {"datum": "_A"}}},
{"transform": [{"filter": "datum.kind == 'study'"}], "mark": {"type": "rule", "strokeWidth": 4.5, "color": "black"}, "encoding": {"x": {"field": "lo", "type": "quantitative", "axis": null}, "x2": {"field": "hi"}, "y": {"field": "study", "type": "nominal", "axis": null}}},
{"transform": [{"filter": "datum.kind == 'study'"}], "mark": {"type": "point", "shape": "square", "filled": true, "opacity": 1, "color": "#00b400"}, "encoding": {"x": {"field": "md", "type": "quantitative", "axis": null}, "y": {"field": "study", "type": "nominal", "axis": null}, "size": {"field": "w", "type": "quantitative", "scale": {"domain": [0, 1], "range": [0, 3300]}, "legend": null}}},
{"transform": [{"filter": "datum.kind == 'total'"}, {"fold": ["lo","md","hi"], "as": ["pt","val"]}], "mark": {"type": "trail", "color": "black"}, "encoding": {"x": {"field": "val", "type": "quantitative", "axis": null}, "y": {"field": "study", "type": "nominal", "axis": null}, "order": {"field": "val", "type": "quantitative"}, "size": {"field": "pt", "type": "nominal", "scale": {"type": "ordinal", "domain": ["lo","md","hi"], "range": [0, 46, 0]}, "legend": null}}},
{"data": {"values": [{}]}, "mark": {"type": "text", "align": "center", "fontSize": 40, "fontWeight": "bold", "color": "#333340"}, "encoding": {"x": {"datum": 0, "type": "quantitative", "axis": {"orient": "top", "values": [-2, -1, 0, 1, 2], "title": null, "grid": false, "domain": false, "labels": false, "ticks": true, "tickSize": 16, "tickWidth": 4, "tickColor": "black", "offset": -833}}, "y": {"datum": "H1", "type": "nominal", "axis": null}, "text": {"value": "Mean Difference"}}},
{"data": {"values": [{}]}, "mark": {"type": "text", "align": "center", "fontSize": 40, "fontWeight": "bold", "color": "#333340"}, "encoding": {"x": {"datum": 0, "type": "quantitative", "axis": null}, "y": {"datum": "H2", "type": "nominal", "axis": null}, "text": {"value": "IV, Random, 95% CI"}}},
{"data": {"values": [{}]}, "mark": {"type": "text", "align": "right", "dx": -22, "fontSize": 42, "color": "#333333"}, "encoding": {"x": {"datum": 0, "type": "quantitative", "axis": null}, "y": {"datum": "Fav", "type": "nominal", "axis": null}, "text": {"value": "Favours Motor Control"}}},
{"data": {"values": [{}]}, "mark": {"type": "text", "align": "left", "dx": 22, "fontSize": 42, "color": "#333333"}, "encoding": {"x": {"datum": 0, "type": "quantitative", "axis": null}, "y": {"datum": "Fav", "type": "nominal", "axis": null}, "text": {"value": "Favours Isometric"}}}
]}
], "spacing": 0, "bounds": "flush"},

{"hconcat": [
{"width": 1975, "height": 510, "data": {"name": "p5"},
"title": {"text": "Roland Morris Disability Questionnaire Outcome", "font": "Liberation Serif", "fontSize": 66, "fontWeight": "bold", "color": "black", "anchor": "middle", "frame": "group", "dx": 200, "offset": 7},
"layer": [
{"data": {"values": [{}]}, "mark": {"type": "rule", "strokeWidth": 4.5, "color": "#222222"}, "encoding": {"y": {"datum": "_L", "type": "nominal", "axis": null, "scale": {"type": "point", "padding": 0.5, "domain": ["H1","1","2","3","4","5","H2","7","8","_L","10","11","12","Aasa 2015","14","15","16","17","18","Catalayud 2020","20","21","22","23","24","Koumatakis 2005","26","27","28","29","30","31","32","33","34","35","Total (95% CI)","37","38","39","40","41","_A","Het","44","45","46","47","48","Test","50","Fav","52","53","54"]}}}},
{"transform": [{"filter": "datum.kind == 'study'"}], "mark": {"type": "text", "align": "left", "fontSize": 44.5}, "encoding": {"x": {"datum": "study", "type": "nominal", "axis": null, "scale": {"type": "point", "padding": 0, "domain": ["0","1","study","3","4","5","6","7","8","9","10","11","12","13","14","15","16","17","18","19","20","21","22","23","24","25","26","27","28","m1","30","gA","32","33","s1","35","36","37","38","39","n1","41","42","43","44","45","46","47","m2","49","gB","51","52","s2","54","55","56","57","58","59","n2","61","62","63","64","65","66","67","w","69","70","71","72","73","74","75","76","77","gC","79","80","81","82","83","84","85","86","87","ci","89","90"]}}, "y": {"field": "study", "type": "nominal", "axis": null}, "text": {"field": "study", "type": "nominal"}}},
{"transform": [{"filter": "datum.kind == 'study'"}, {"fold": ["m1","s1","n1","m2","s2","n2","ci"]}], "mark": {"type": "text", "align": "right", "fontSize": 44.5}, "encoding": {"x": {"field": "key", "type": "nominal", "axis": null}, "y": {"field": "study", "type": "nominal", "axis": null}, "text": {"field": "value", "type": "nominal"}}},
{"transform": [{"filter": "datum.kind == 'study'"}], "mark": {"type": "text", "align": "right", "fontSize": 44.5}, "encoding": {"x": {"datum": "w", "type": "nominal", "axis": null}, "y": {"field": "study", "type": "nominal", "axis": null}, "text": {"field": "w", "type": "quantitative", "format": ".1%"}}},
{"transform": [{"filter": "datum.kind == 'total'"}], "mark": {"type": "text", "align": "left", "fontSize": 44.5, "fontWeight": "bold"}, "encoding": {"x": {"datum": "study", "type": "nominal", "axis": null}, "y": {"field": "study", "type": "nominal", "axis": null}, "text": {"field": "study", "type": "nominal"}}},
{"transform": [{"filter": "datum.kind == 'total'"}, {"fold": ["n1","n2","ci"]}], "mark": {"type": "text", "align": "right", "fontSize": 44.5, "fontWeight": "bold"}, "encoding": {"x": {"field": "key", "type": "nominal", "axis": null}, "y": {"field": "study", "type": "nominal", "axis": null}, "text": {"field": "value", "type": "nominal"}}},
{"transform": [{"filter": "datum.kind == 'total'"}], "mark": {"type": "text", "align": "right", "fontSize": 44.5, "fontWeight": "bold"}, "encoding": {"x": {"datum": "w", "type": "nominal", "axis": null}, "y": {"field": "study", "type": "nominal", "axis": null}, "text": {"field": "w", "type": "quantitative", "format": ".1%"}}},
{"transform": [{"filter": "datum.kind == 'total'"}], "mark": {"type": "text", "align": "left", "fontSize": 44.5}, "encoding": {"x": {"datum": "study", "type": "nominal", "axis": null}, "y": {"datum": "Het", "type": "nominal", "axis": null}, "text": {"field": "het", "type": "nominal"}}},
{"transform": [{"filter": "datum.kind == 'total'"}], "mark": {"type": "text", "align": "left", "fontSize": 44.5}, "encoding": {"x": {"datum": "study", "type": "nominal", "axis": null}, "y": {"datum": "Test", "type": "nominal", "axis": null}, "text": {"field": "test", "type": "nominal"}}},
{"data": {"name": "hTopIsom"}, "mark": {"type": "text", "align": "center", "fontSize": 42.5, "fontWeight": "bold", "color": "#333340"}, "encoding": {"x": {"field": "col", "type": "nominal", "axis": null}, "y": {"datum": "H1", "type": "nominal", "axis": null}, "text": {"field": "label", "type": "nominal"}}},
{"data": {"values": [{}]}, "mark": {"type": "text", "align": "left", "fontSize": 42.5, "fontWeight": "bold", "color": "#333340"}, "encoding": {"x": {"datum": "study", "type": "nominal", "axis": null}, "y": {"datum": "H2", "type": "nominal", "axis": null}, "text": {"value": "Study or Subgroup"}}},
{"data": {"name": "hCols"}, "mark": {"type": "text", "align": "right", "fontSize": 42.5, "fontWeight": "bold", "color": "#333340"}, "encoding": {"x": {"field": "col", "type": "nominal", "axis": null}, "y": {"datum": "H2", "type": "nominal", "axis": null}, "text": {"field": "label", "type": "nominal"}}}
]},
{"width": 1131, "height": 510, "data": {"name": "p5"},
"resolve": {"scale": {"size": "independent"}, "axis": {"x": "independent"}},
"layer": [
{"data": {"values": [{}]}, "mark": {"type": "rule", "strokeWidth": 4.5, "color": "#222222"}, "encoding": {"y": {"datum": "_L", "type": "nominal", "axis": null, "scale": {"type": "point", "padding": 0.5, "domain": ["H1","1","2","3","4","5","H2","7","8","_L","10","11","12","Aasa 2015","14","15","16","17","18","Catalayud 2020","20","21","22","23","24","Koumatakis 2005","26","27","28","29","30","31","32","33","34","35","Total (95% CI)","37","38","39","40","41","_A","Het","44","45","46","47","48","Test","50","Fav","52","53","54"]}}}},
{"data": {"values": [{}]}, "mark": {"type": "rule", "strokeWidth": 3, "color": "black"}, "encoding": {"x": {"datum": 0, "type": "quantitative", "scale": {"domain": [-12.37, 12.37], "nice": false, "zero": false}, "axis": {"values": [-10, -5, 0, 5, 10], "title": null, "grid": false, "domainColor": "black", "domainWidth": 4.5, "ticks": true, "tickSize": 0, "labelFont": "Liberation Sans", "labelFontSize": 44.5, "labelColor": "black", "labelPadding": 40, "labelBaseline": "middle", "labelFlush": false, "labelOverlap": false, "offset": -116, "labelExpr": "replace(datum.label, '\u2212', '-')"}}, "y": {"datum": "_L", "type": "nominal", "axis": null}, "y2": {"datum": "_A"}}},
{"transform": [{"filter": "datum.kind == 'study'"}], "mark": {"type": "rule", "strokeWidth": 4.5, "color": "black"}, "encoding": {"x": {"field": "lo", "type": "quantitative", "axis": null}, "x2": {"field": "hi"}, "y": {"field": "study", "type": "nominal", "axis": null}}},
{"transform": [{"filter": "datum.kind == 'study'"}], "mark": {"type": "point", "shape": "square", "filled": true, "opacity": 1, "color": "#00b400"}, "encoding": {"x": {"field": "md", "type": "quantitative", "axis": null}, "y": {"field": "study", "type": "nominal", "axis": null}, "size": {"field": "w", "type": "quantitative", "scale": {"domain": [0, 1], "range": [0, 3300]}, "legend": null}}},
{"transform": [{"filter": "datum.kind == 'total'"}, {"fold": ["lo","md","hi"], "as": ["pt","val"]}], "mark": {"type": "trail", "color": "black"}, "encoding": {"x": {"field": "val", "type": "quantitative", "axis": null}, "y": {"field": "study", "type": "nominal", "axis": null}, "order": {"field": "val", "type": "quantitative"}, "size": {"field": "pt", "type": "nominal", "scale": {"type": "ordinal", "domain": ["lo","md","hi"], "range": [0, 47, 0]}, "legend": null}}},
{"data": {"values": [{}]}, "mark": {"type": "text", "align": "center", "fontSize": 42.5, "fontWeight": "bold", "color": "#333340"}, "encoding": {"x": {"datum": 0, "type": "quantitative", "axis": {"orient": "top", "values": [-10, -5, 0, 5, 10], "title": null, "grid": false, "domain": false, "labels": false, "ticks": true, "tickSize": 16, "tickWidth": 4, "tickColor": "black", "offset": -394}}, "y": {"datum": "H1", "type": "nominal", "axis": null}, "text": {"value": "Mean Difference"}}},
{"data": {"values": [{}]}, "mark": {"type": "text", "align": "center", "fontSize": 42.5, "fontWeight": "bold", "color": "#333340"}, "encoding": {"x": {"datum": 0, "type": "quantitative", "axis": null}, "y": {"datum": "H2", "type": "nominal", "axis": null}, "text": {"value": "IV, Random, 95% CI"}}},
{"data": {"values": [{}]}, "mark": {"type": "text", "align": "right", "dx": -22, "fontSize": 44.5, "color": "#333333"}, "encoding": {"x": {"datum": 0, "type": "quantitative", "axis": null}, "y": {"datum": "Fav", "type": "nominal", "axis": null}, "text": {"value": "Favours Motor Control"}}},
{"data": {"values": [{}]}, "mark": {"type": "text", "align": "left", "dx": 22, "fontSize": 44.5, "color": "#333333"}, "encoding": {"x": {"datum": 0, "type": "quantitative", "axis": null}, "y": {"datum": "Fav", "type": "nominal", "axis": null}, "text": {"value": "Favours Isometric"}}}
]}
], "spacing": 0, "bounds": "flush"}
]
}
